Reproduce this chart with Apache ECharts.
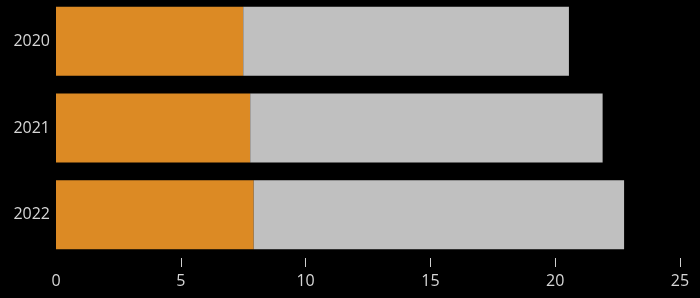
<!DOCTYPE html>
<html>
<head>
<meta charset="utf-8">
<script src="https://cdn.jsdelivr.net/npm/echarts@6/dist/echarts.min.js"></script>
<style>
html,body{margin:0;padding:0;background:#000;}
#chart{width:700px;height:298px;}
</style>
</head>
<body>
<div id="chart"></div>
<script>
const categories = ['2020', '2021', '2022'];
const orangeValues = [7.5, 7.78, 7.92];
const grayValues = [13.05, 14.12, 14.84];
const xTicks = [5, 10, 15, 20, 25];

const chart = echarts.init(document.getElementById('chart'));
chart.setOption({
  backgroundColor: '#000000',
  animation: false,
  textStyle: { fontFamily: 'Open Sans' },
  grid: { left: 56, right: 20, top: -2, bottom: 40, containLabel: false, outerBoundsMode: 'none' },
  xAxis: [{
    type: 'value',
    min: 0, max: 25, interval: 5,
    axisLine: { show: true, onZero: false, lineStyle: { color: '#000000', width: 1 } },
    splitLine: { show: false },
    axisTick: { show: true, inside: false, length: 9, lineStyle: { color: '#d0d0d0', width: 1 } },
    axisLabel: { color: '#d6d6d6', fontSize: 16, fontFamily: 'Open Sans', margin: 15 }
  }, {
    type: 'value',
    position: 'bottom',
    min: 0, max: 25,
    axisLine: { show: true, onZero: false, lineStyle: { color: '#000000', width: 1 } },
    splitLine: { show: false },
    axisLabel: { show: false },
    axisTick: { show: true, length: 10, lineStyle: { color: '#000000', width: 3 }, customValues: [0] }
  }],
  yAxis: {
    type: 'category',
    inverse: true,
    data: categories,
    axisLine: { show: false },
    axisTick: { show: false },
    axisLabel: { color: '#d6d6d6', fontSize: 16, fontFamily: 'Open Sans', margin: 6 }
  },
  series: [
    { type: 'bar', stack: 's', data: orangeValues, barWidth: 69, itemStyle: { color: '#dc8a24' } },
    { type: 'bar', stack: 's', data: grayValues, barWidth: 69, itemStyle: { color: '#c0c0c0' } }
  ]
});
</script>
</body>
</html>
